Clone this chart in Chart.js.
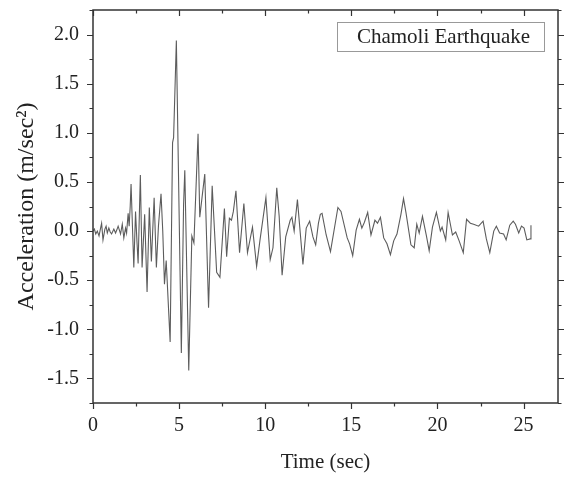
<!DOCTYPE html>
<html><head><meta charset="utf-8">
<script src="https://cdn.jsdelivr.net/npm/chart.js@4.4.0/dist/chart.umd.min.js"></script>
<style>html,body{margin:0;padding:0;background:#fff}#wrap{width:567px;height:478px}</style>
</head><body><div id="wrap"><canvas id="c" width="567" height="478"></canvas></div>
<script>
const timeSec = [0.00,0.08,0.16,0.25,0.35,0.44,0.50,0.58,0.69,0.76,0.83,0.92,1.00,1.08,1.21,1.31,1.38,1.46,1.60,1.70,1.79,1.89,1.95,
2.04,2.10,2.16,2.21,2.29,2.37,2.47,2.55,2.62,2.75,2.85,3.00,3.14,3.27,3.39,3.55,3.68,3.80,3.95,4.05,4.15,4.25,4.48,4.62,4.68,4.84,
5.13,5.26,5.33,5.56,5.74,5.86,6.10,6.20,6.33,6.49,6.71,6.92,7.18,7.37,7.63,7.76,7.92,8.04,8.15,8.30,8.51,8.76,8.97,9.26,9.50,9.69,
10.04,10.29,10.45,10.67,10.81,10.98,11.19,11.45,11.55,11.68,11.87,12.19,12.38,12.58,12.77,12.93,13.09,13.20,13.30,13.54,13.79,
14.22,14.40,14.76,14.90,15.08,15.28,15.47,15.61,15.76,15.95,16.14,16.37,16.52,16.69,16.88,17.07,17.27,17.46,17.65,17.88,18.03,
18.17,18.46,18.65,18.80,18.94,19.13,19.36,19.52,19.71,19.94,20.17,20.27,20.48,20.62,20.87,21.06,21.26,21.50,21.69,21.91,22.10,
22.39,22.65,22.84,23.04,23.27,23.42,23.61,23.84,23.99,24.20,24.40,24.53,24.72,24.88,25.03,25.19,25.38,25.43];
const accel = [0.00,0.02,-0.03,0.00,-0.05,0.03,0.08,-0.09,0.02,0.05,-0.02,0.03,-0.01,-0.03,0.02,-0.02,0.01,0.05,-0.03,0.07,-0.07,0.03,-0.02,
0.18,0.05,0.25,0.48,0.05,-0.37,0.20,-0.10,-0.33,0.57,-0.37,0.17,-0.62,0.24,-0.31,0.34,-0.37,0.05,0.38,0.00,-0.54,-0.30,-1.13,0.90,0.95,1.94,
-1.24,0.27,0.62,-1.42,-0.05,-0.12,0.99,0.14,0.34,0.58,-0.78,0.46,-0.42,-0.47,0.23,-0.26,0.13,0.11,0.20,0.41,-0.22,0.28,-0.22,0.04,-0.36,-0.10,
0.34,-0.29,-0.17,0.44,0.15,-0.45,-0.06,0.11,0.14,0.00,0.32,-0.34,0.03,0.10,-0.06,-0.14,0.08,0.17,0.18,-0.04,-0.21,
0.24,0.20,-0.07,-0.13,-0.25,0.01,0.12,0.03,0.09,0.19,-0.04,0.11,0.08,0.14,-0.07,-0.13,-0.24,-0.10,-0.03,0.17,0.33,
0.19,-0.14,-0.17,0.07,-0.02,0.15,-0.05,-0.20,0.04,0.19,0.00,0.04,-0.09,0.19,-0.04,-0.01,-0.10,-0.22,0.12,0.08,0.07,
0.05,0.10,-0.08,-0.22,0.00,0.05,-0.02,-0.03,-0.09,0.06,0.10,0.07,-0.02,0.05,0.03,-0.09,-0.08,0.06];
const xTicks = [0, 5, 10, 15, 20, 25];
const yTicks = [-1.5, -1.0, -0.5, 0.0, 0.5, 1.0, 1.5, 2.0];
const xMinorStep = 2.5;
const yMinorStep = 0.25;
const legendLabel = 'Chamoli Earthquake';
const xTitle = 'Time (sec)';
const yTitle = 'Acceleration (m/sec²)';

const FONT = '"Liberation Serif", "Times New Roman", serif';
const TXT = '#222';
const AX = '#333';

const framePlugin = {
  id: 'frame',
  afterDraw(chart) {
    const ctx = chart.ctx, a = chart.chartArea;
    const xs = chart.scales.x, ys = chart.scales.y;
    ctx.save();
    ctx.strokeStyle = AX; ctx.lineWidth = 1.5;
    ctx.strokeRect(a.left, a.top, a.right - a.left, a.bottom - a.top);
    ctx.lineWidth = 1.2;
    ctx.beginPath();
    for (let v = xs.min; v <= xs.max + 1e-9; v += xMinorStep) {
      const major = Math.abs(v / 5 - Math.round(v / 5)) < 1e-6;
      const px = Math.round(xs.getPixelForValue(v)) + 0.5;
      const L = major ? 6 : 3.5;
      ctx.moveTo(px, a.bottom); ctx.lineTo(px, a.bottom + L);
      ctx.moveTo(px, a.top); ctx.lineTo(px, a.top + L);
    }
    for (let v = ys.min; v <= ys.max + 1e-9; v += yMinorStep) {
      const major = Math.abs(v / 0.5 - Math.round(v / 0.5)) < 1e-6;
      const py = Math.round(ys.getPixelForValue(v)) + 0.5;
      const L = major ? 6 : 3.5;
      ctx.moveTo(a.left, py); ctx.lineTo(a.left - L, py);
      ctx.moveTo(a.right, py); ctx.lineTo(a.right + L, py);
    }
    ctx.stroke();
    // legend box
    ctx.font = '21px ' + FONT;
    const tw = ctx.measureText(legendLabel).width;
    const bx = a.right - 221, by = a.top + 12, bw = 207, bh = 29;
    ctx.strokeStyle = '#999'; ctx.lineWidth = 1;
    ctx.strokeRect(bx + 0.5, by + 0.5, bw, bh);
    ctx.fillStyle = TXT; ctx.textBaseline = 'middle'; ctx.textAlign = 'left';
    ctx.fillText(legendLabel, bx + (bw - tw) / 2 + 3, by + bh / 2 + 1);
    ctx.restore();
  }
};

new Chart(document.getElementById('c'), {
  type: 'line',
  data: { datasets: [{
    label: legendLabel,
    data: timeSec.map((t, i) => ({ x: t, y: accel[i] })),
    borderColor: '#5c5c5c', borderWidth: 1.1, pointRadius: 0, tension: 0, fill: false
  }]},
  options: {
    responsive: false, animation: false, devicePixelRatio: 1,
    layout: { padding: { top: 10, right: 9, left: 0, bottom: 0 } },
    plugins: { legend: { display: false }, tooltip: { enabled: false } },
    scales: {
      x: {
        type: 'linear', min: 0, max: 27,
        afterBuildTicks: s => { s.ticks = xTicks.map(v => ({ value: v })); },
        afterFit: s => { s.height = 75; s.paddingLeft = 0; s.paddingRight = 0; },
        grid: { display: false, drawTicks: false }, border: { display: false },
        ticks: { color: TXT, font: { family: FONT, size: 20 }, padding: 11, maxRotation: 0, callback: v => String(v) },
        title: { display: true, text: xTitle, color: TXT, font: { family: FONT, size: 21 }, padding: { top: 0, bottom: 3 } }
      },
      y: {
        min: -1.75, max: 2.25,
        afterBuildTicks: s => { s.ticks = yTicks.map(v => ({ value: v })); },
        afterFit: s => { s.width = 93; s.paddingTop = 0; s.paddingBottom = 0; },
        grid: { display: false, drawTicks: false }, border: { display: false },
        ticks: { color: TXT, font: { family: FONT, size: 20 }, padding: 14, callback: v => Number(v).toFixed(1) },
        title: { display: true, text: yTitle, color: TXT, font: { family: FONT, size: 24 }, padding: { top: 12, bottom: 0 } }
      }
    }
  },
  plugins: [framePlugin]
});
</script></body></html>
